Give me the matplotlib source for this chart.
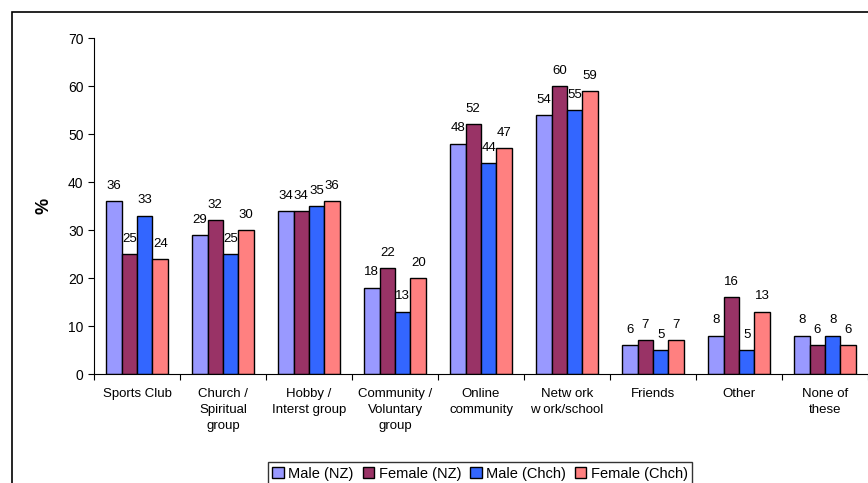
import numpy as np
import matplotlib.pyplot as plt
from matplotlib.patches import Rectangle

plt.rcParams['font.family'] = ['Liberation Sans', 'DejaVu Sans']

categories = ["Sports Club", "Church /\nSpiritual\ngroup", "Hobby /\nInterst group",
              "Community /\nVoluntary\ngroup", "Online\ncommunity", "Netw ork\nw ork/school",
              "Friends", "Other", "None of\nthese"]
series_names = ["Male (NZ)", "Female (NZ)", "Male (Chch)", "Female (Chch)"]
male_nz = [36, 29, 34, 18, 48, 54, 6, 8, 8]
female_nz = [25, 32, 34, 22, 52, 60, 7, 16, 6]
male_chch = [33, 25, 35, 13, 44, 55, 5, 5, 8]
female_chch = [24, 30, 36, 20, 47, 59, 7, 13, 6]
colors = ["#9999FF", "#993366", "#3366FF", "#FF8080"]

W, H = 868, 483
fig = plt.figure(figsize=(W / 100, H / 100), dpi=100)
ax = fig.add_axes([94 / W, (H - 374) / H, 774 / W, (374 - 38) / H])

# outer chart border (cut off at right/bottom like the original)
fig.patches.append(Rectangle((12 / W, -0.1), 1.2, (H - 12) / H + 0.1,
                             transform=fig.transFigure, fill=False,
                             edgecolor="black", linewidth=1.2))

x = np.arange(len(categories))
bw = 0.18
all_series = [male_nz, female_nz, male_chch, female_chch]
for i, (vals, name, c) in enumerate(zip(all_series, series_names, colors)):
    pos = x + (i - 1.5) * bw
    ax.bar(pos, vals, width=bw, color=c, edgecolor="black", linewidth=1,
           label=name)
    for p, v in zip(pos, vals):
        ax.text(p, v + 1.9, str(v), ha="center", va="bottom", fontsize=9.5)

ax.set_xlim(-0.5, len(categories) - 0.5)
ax.set_ylim(0, 70)
ax.set_yticks(range(0, 71, 10))
ax.tick_params(axis="y", labelsize=10, length=4, direction="out")
ax.set_xticks(np.arange(-0.5, len(categories), 1))
ax.set_xticklabels([])
ax.set_xticks(x, minor=True)
ax.set_xticklabels(categories, minor=True, fontsize=9.5)
ax.tick_params(axis="x", which="major", length=4, direction="out")
ax.tick_params(axis="x", which="minor", length=0, pad=10)
for lbl in ax.get_xticklabels(minor=True):
    lbl.set_linespacing(1.45)
ax.spines["top"].set_visible(False)
ax.spines["right"].set_visible(False)
ax.set_ylabel("%", fontsize=13, fontweight="bold", labelpad=11)

leg = fig.legend(loc="upper center", bbox_to_anchor=(480 / W, 1 - 455 / H),
                 ncol=4, fontsize=10.5, frameon=True, fancybox=False,
                 handlelength=0.8, handleheight=0.8, handletextpad=0.3,
                 columnspacing=0.6, borderpad=0.3)
leg.get_frame().set_edgecolor("black")
leg.get_frame().set_linewidth(1)

fig.savefig("out.png", dpi=100)
